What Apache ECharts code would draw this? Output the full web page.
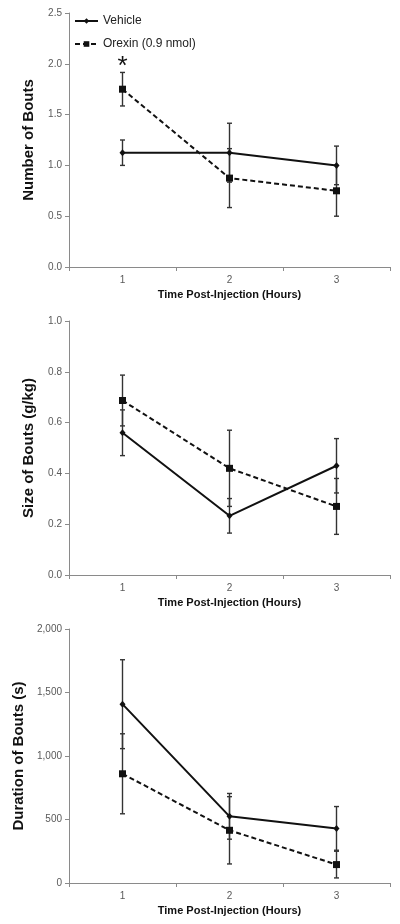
<!DOCTYPE html>
<html>
<head>
<meta charset="utf-8">
<script src="https://cdn.jsdelivr.net/npm/echarts@6/dist/echarts.min.js"></script>
<style>
html,body{margin:0;padding:0;background:#fff;}
#c{width:400px;height:924px;}
</style>
</head>
<body>
<div id="c"></div>
<script>
var categories = ['1', '2', '3'];
var seriesNames = ['Vehicle', 'Orexin (0.9 nmol)'];

var boutsVehicle = [1.125, 1.125, 1.0];
var boutsVehicleErr = [0.125, 0.29, 0.19];
var boutsOrexin = [1.75, 0.875, 0.75];
var boutsOrexinErr = [0.165, 0.29, 0.25];

var sizeVehicle = [0.56, 0.233, 0.43];
var sizeVehicleErr = [0.09, 0.068, 0.107];
var sizeOrexin = [0.687, 0.42, 0.27];
var sizeOrexinErr = [0.10, 0.15, 0.11];

var durVehicle = [1408, 525, 430];
var durVehicleErr = [350, 180, 172];
var durOrexin = [860, 415, 145];
var durOrexinErr = [315, 265, 105];

var yTitles = ['Number of Bouts', 'Size of Bouts (g/kg)', 'Duration of Bouts (s)'];
var xTitle = 'Time Post-Injection (Hours)';
var yMax = [2.5, 1.0, 2000];
var yInterval = [0.5, 0.2, 500];
var significance = '*';

var FONT = 'Liberation Sans, Arial, sans-serif';
var AXIS_COLOR = '#8a8a8a';
var LABEL_COLOR = '#595959';

function errData(vals, errs) {
  return vals.map(function (v, i) { return [i, v - errs[i], v + errs[i]]; });
}

function errorSeries(idx, vals, errs) {
  return {
    type: 'custom',
    xAxisIndex: idx, yAxisIndex: idx,
    z: 1,
    silent: true,
    data: errData(vals, errs),
    renderItem: function (params, api) {
      var x = api.value(0);
      var lo = api.coord([x, api.value(1)]);
      var hi = api.coord([x, api.value(2)]);
      var hw = 2.5;
      var st = { stroke: '#333', lineWidth: 1.4 };
      return {
        type: 'group',
        children: [
          { type: 'line', shape: { x1: lo[0], y1: lo[1], x2: hi[0], y2: hi[1] }, style: st },
          { type: 'line', shape: { x1: lo[0] - hw, y1: lo[1], x2: lo[0] + hw, y2: lo[1] }, style: st },
          { type: 'line', shape: { x1: hi[0] - hw, y1: hi[1], x2: hi[0] + hw, y2: hi[1] }, style: st }
        ]
      };
    }
  };
}

function lineSeries(idx, name, vals, dashed, extra) {
  var s = {
    type: 'line',
    name: name,
    xAxisIndex: idx, yAxisIndex: idx,
    z: 3,
    data: vals,
    symbol: dashed ? 'rect' : 'diamond',
    symbolSize: dashed ? 7 : [6, 7],
    itemStyle: { color: '#111' },
    lineStyle: { color: '#111', width: 2, type: dashed ? [5, 3] : 'solid' },
    animation: false
  };
  if (extra) { for (var k in extra) s[k] = extra[k]; }
  return s;
}

var tops = [13, 321, 629];
var grids = [], xAxes = [], yAxes = [];
var nameGaps = [33, 33, 43];
for (var i = 0; i < 3; i++) {
  grids.push({ left: 69, top: tops[i], width: 321, height: 254 });
  xAxes.push({
    type: 'category', gridIndex: i, data: categories, boundaryGap: true,
    axisLine: { lineStyle: { color: AXIS_COLOR, width: 1 } },
    axisTick: { show: true, inside: false, length: 4, lineStyle: { color: AXIS_COLOR } },
    axisLabel: { color: LABEL_COLOR, fontSize: 10, fontFamily: FONT, margin: 8 },
    name: xTitle, nameLocation: 'middle', nameGap: 22,
    nameTextStyle: { color: '#111', fontSize: 11, fontWeight: 'bold', fontFamily: FONT }
  });
  (function (ii) {
    yAxes.push({
      type: 'value', gridIndex: ii, min: 0, max: yMax[ii], interval: yInterval[ii],
      axisLine: { show: true, lineStyle: { color: AXIS_COLOR, width: 1 } },
      axisTick: { show: true, inside: false, length: 4, lineStyle: { color: AXIS_COLOR } },
      splitLine: { show: false },
      axisLabel: {
        color: LABEL_COLOR, fontSize: 10, fontFamily: FONT, margin: 7,
        formatter: function (v) {
          if (ii === 2) return Math.round(v).toLocaleString('en-US');
          return v.toFixed(1);
        }
      },
      name: yTitles[ii], nameLocation: 'middle', nameGap: nameGaps[ii], nameRotate: 90,
      nameTextStyle: { color: '#111', fontSize: 15, fontWeight: 'bold', fontFamily: FONT }
    });
  })(i);
}

var series = [
  errorSeries(0, boutsVehicle, boutsVehicleErr),
  errorSeries(0, boutsOrexin, boutsOrexinErr),
  lineSeries(0, seriesNames[0], boutsVehicle, false),
  lineSeries(0, seriesNames[1], boutsOrexin, true, {
    markPoint: {
      symbol: 'circle', symbolSize: 0,
      data: [{ coord: [0, boutsOrexin[0] + boutsOrexinErr[0]] }],
      label: { show: true, formatter: significance, color: '#111', fontSize: 26, fontFamily: FONT, offset: [0, -6] }
    }
  }),
  errorSeries(1, sizeVehicle, sizeVehicleErr),
  errorSeries(1, sizeOrexin, sizeOrexinErr),
  lineSeries(1, seriesNames[0], sizeVehicle, false),
  lineSeries(1, seriesNames[1], sizeOrexin, true),
  errorSeries(2, durVehicle, durVehicleErr),
  errorSeries(2, durOrexin, durOrexinErr),
  lineSeries(2, seriesNames[0], durVehicle, false),
  lineSeries(2, seriesNames[1], durOrexin, true)
];

var chart = echarts.init(document.getElementById('c'), null, { renderer: 'canvas' });
chart.setOption({
  animation: false,
  backgroundColor: '#fff',
  legend: {
    data: seriesNames,
    orient: 'vertical',
    left: 74, top: 15, padding: 0,
    itemWidth: 23, itemHeight: 7, itemGap: 11,
    textStyle: { color: '#222', fontSize: 12, fontFamily: FONT }
  },
  grid: grids,
  xAxis: xAxes,
  yAxis: yAxes,
  series: series
});
</script>
</body>
</html>
